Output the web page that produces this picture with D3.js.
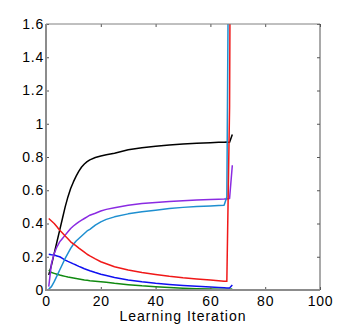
<!DOCTYPE html>
<html>
<head>
<meta charset="utf-8">
<script src="https://cdn.jsdelivr.net/npm/d3@7.8.5/dist/d3.min.js"></script>
<style>
  body { margin: 0; background: #fff; }
  svg { display: block; }
  text { font-family: "Liberation Sans", Arial, Helvetica, sans-serif; fill: #000; }
</style>
</head>
<body>
<div id="chart"></div>
<script>
// learning iterations (x values shared by all curves)
const iterations = [1, 2, 3, 4, 5, 6, 7, 8, 9, 10, 11, 12, 13, 14, 15, 16, 18, 20, 22, 25, 30, 35, 40, 45, 50, 55, 60, 63, 65, 66, 67, 68];

const blackValues  = [0.09, 0.15, 0.22, 0.29, 0.36, 0.43, 0.5, 0.56, 0.61, 0.65, 0.685, 0.715, 0.74, 0.758, 0.772, 0.783, 0.797, 0.806, 0.813, 0.823, 0.843, 0.856, 0.865, 0.872, 0.878, 0.882, 0.886, 0.888, 0.889, 0.89, 0.888, 0.935];
const redValues    = [0.43, 0.415, 0.40, 0.38, 0.36, 0.343, 0.325, 0.308, 0.29, 0.277, 0.265, 0.252, 0.24, 0.228, 0.215, 0.205, 0.187, 0.17, 0.158, 0.14, 0.12, 0.105, 0.093, 0.082, 0.073, 0.066, 0.06, 0.056, 0.053, 0.052, 1.1, 5];
const blueValues   = [0.215, 0.212, 0.21, 0.205, 0.2, 0.19, 0.18, 0.172, 0.165, 0.157, 0.15, 0.142, 0.135, 0.128, 0.122, 0.116, 0.105, 0.095, 0.087, 0.075, 0.06, 0.049, 0.04, 0.033, 0.027, 0.022, 0.018, 0.015, 0.013, 0.012, 0.012, 0.03];
const greenValues  = [0.12, 0.105, 0.10, 0.095, 0.09, 0.086, 0.082, 0.078, 0.075, 0.072, 0.069, 0.066, 0.063, 0.06, 0.058, 0.056, 0.053, 0.05, 0.046, 0.04, 0.032, 0.025, 0.02, 0.015, 0.011, 0.008, 0.006, 0.005, 0.004, 0.004, 0.004, 0.006];
const purpleValues = [0.02, 0.16, 0.22, 0.26, 0.29, 0.31, 0.33, 0.35, 0.37, 0.385, 0.398, 0.41, 0.42, 0.43, 0.44, 0.45, 0.462, 0.475, 0.485, 0.495, 0.51, 0.52, 0.527, 0.532, 0.537, 0.541, 0.544, 0.546, 0.547, 0.548, 0.55, 0.75];
const cyanValues   = [0.005, 0.02, 0.05, 0.085, 0.12, 0.155, 0.19, 0.22, 0.25, 0.275, 0.295, 0.31, 0.325, 0.34, 0.355, 0.365, 0.39, 0.41, 0.425, 0.44, 0.458, 0.47, 0.48, 0.49, 0.497, 0.502, 0.506, 0.508, 0.51, 0.56, 3, null];

const series = [
  { name: "black", color: "#000000", values: blackValues },
  { name: "green", color: "#108a10", values: greenValues },
  { name: "blue", color: "#1010f0", values: blueValues },
  { name: "purple", color: "#8a2be2", values: purpleValues },
  { name: "cyan", color: "#1e8fd0", values: cyanValues },
  { name: "red", color: "#f01818", values: redValues }
];

const xTicks = [0, 20, 40, 60, 80, 100];
const yTicks = [0, 0.2, 0.4, 0.6, 0.8, 1, 1.2, 1.4, 1.6];

const width = 354, height = 327;
const margin = { top: 24, right: 34, bottom: 37, left: 46 };

const svg = d3.select("#chart")
  .append("svg")
  .attr("width", width)
  .attr("height", height);

const x = d3.scaleLinear().domain([0, 100]).range([margin.left, width - margin.right]);
const y = d3.scaleLinear().domain([0, 1.6]).range([height - margin.bottom, margin.top]);

svg.append("clipPath").attr("id", "plot-clip")
  .append("rect")
  .attr("x", x(0)).attr("y", y(1.6))
  .attr("width", x(100) - x(0)).attr("height", y(0) - y(1.6));

// curves
const line = d3.line()
  .defined(d => d[1] != null)
  .x(d => x(d[0]))
  .y(d => y(d[1]));

svg.append("g")
  .attr("clip-path", "url(#plot-clip)")
  .selectAll("path")
  .data(series)
  .join("path")
  .attr("fill", "none")
  .attr("stroke", d => d.color)
  .attr("stroke-width", 1.5)
  .attr("stroke-linejoin", "round")
  .attr("d", d => line(iterations.map((it, i) => [it, d.values[i]])));

// axes (inward ticks, matlab style)
const fmtY = d => (d === 0 || d === 1) ? d3.format("d")(d) : d3.format(".1f")(d);

svg.append("g")
  .attr("transform", `translate(${x(0)},0)`)
  .call(d3.axisLeft(y).tickValues(yTicks).tickFormat(fmtY).tickSizeInner(-3).tickSizeOuter(0).tickPadding(2))
  .call(g => g.select(".domain").remove());

svg.append("g")
  .attr("transform", `translate(${x(100)},0)`)
  .call(d3.axisRight(y).tickValues(yTicks).tickFormat("").tickSizeInner(-3).tickSizeOuter(0))
  .call(g => g.select(".domain").remove());

svg.append("g")
  .attr("transform", `translate(0,${y(0)})`)
  .call(d3.axisBottom(x).tickValues(xTicks).tickFormat(d3.format("d")).tickSizeInner(-3).tickSizeOuter(0).tickPadding(6))
  .call(g => g.select(".domain").remove());

svg.append("g")
  .attr("transform", `translate(0,${y(1.6)})`)
  .call(d3.axisTop(x).tickValues(xTicks).tickFormat("").tickSizeInner(-3).tickSizeOuter(0))
  .call(g => g.select(".domain").remove());

svg.selectAll(".tick line").attr("stroke", "#555");
svg.selectAll(".tick text")
  .style("font-size", "14px")
  .style("letter-spacing", "0.8px")
  .style("font-family", "'Liberation Sans', Arial, sans-serif")
  .attr("fill", "#000");

// box
svg.append("line")
  .attr("x1", x(0)).attr("x2", x(100)).attr("y1", y(1.6)).attr("y2", y(1.6))
  .attr("stroke", "#808080").attr("stroke-width", 1);
svg.append("line")
  .attr("x1", x(100)).attr("x2", x(100)).attr("y1", y(1.6)).attr("y2", y(0))
  .attr("stroke", "#555").attr("stroke-width", 1);
svg.append("line")
  .attr("x1", x(0)).attr("x2", x(100)).attr("y1", y(0)).attr("y2", y(0))
  .attr("stroke", "#8c8c8c").attr("stroke-width", 2);
svg.append("line")
  .attr("x1", x(0)).attr("x2", x(0)).attr("y1", y(1.6)).attr("y2", y(0) + 1)
  .attr("stroke", "#8c8c8c").attr("stroke-width", 2);

// x label
svg.append("text")
  .attr("x", (x(0) + x(100)) / 2)
  .attr("y", 321)
  .attr("text-anchor", "middle")
  .style("font-size", "14px")
  .style("letter-spacing", "1px")
  .text("Learning Iteration");
</script>
</body>
</html>
